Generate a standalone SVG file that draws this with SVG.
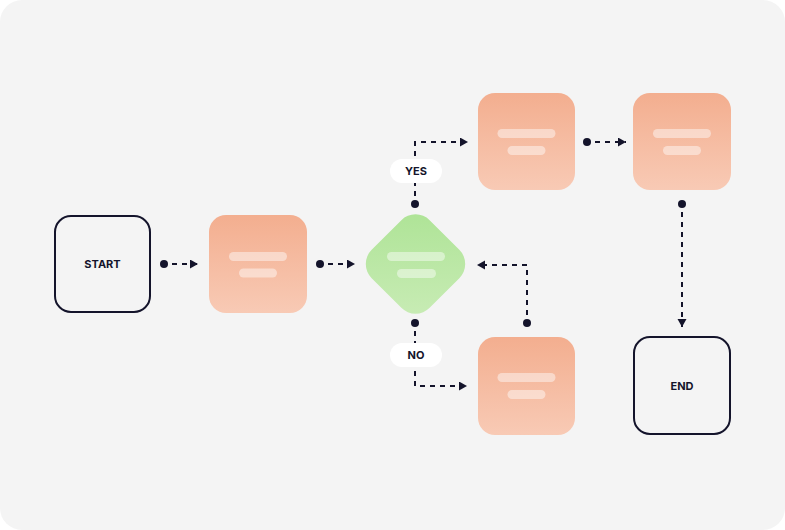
<svg xmlns="http://www.w3.org/2000/svg" width="785" height="530" viewBox="0 0 785 530">
<defs>
<linearGradient id="og" x1="0" y1="0" x2="0" y2="1">
<stop offset="0" stop-color="#f3ae8f"/>
<stop offset="1" stop-color="#f8cab5"/>
</linearGradient>
<linearGradient id="gg" x1="0" y1="0" x2="1" y2="1">
<stop offset="0" stop-color="#ade395"/>
<stop offset="1" stop-color="#c9ecb6"/>
</linearGradient>
<marker id="ah" markerUnits="userSpaceOnUse" markerWidth="10" markerHeight="10" refX="8" refY="4.5" orient="auto">
<path d="M0,0 L8,4.5 L0,9 z" fill="#14142b"/>
</marker>
<style>
.term{fill:none;stroke:#14142b;stroke-width:2}
.lbl{font-family:Inter,"Liberation Sans",sans-serif;font-weight:700;font-size:11px;fill:#14142b;text-anchor:middle}
.bar{fill:#ffffff;fill-opacity:0.45}
.conn{fill:none;stroke:#14142b;stroke-width:2;stroke-dasharray:5 5}
.dot{fill:#14142b}
.pill{fill:#ffffff}
</style>
</defs>
<rect x="0" y="0" width="785" height="530" fill="#ffffff"/>
<rect x="0" y="0" width="785" height="530" rx="22" fill="#f4f4f4"/>

<g id="connectors">
<circle class="dot" cx="164" cy="264" r="4"/>
<path class="conn" d="M172,264 H198" marker-end="url(#ah)"/>
<circle class="dot" cx="320" cy="264" r="4"/>
<path class="conn" d="M328,264 H355" marker-end="url(#ah)"/>
<circle class="dot" cx="415" cy="204" r="4"/>
<path class="conn" d="M415,196 V142 H468" marker-end="url(#ah)"/>
<circle class="dot" cx="415" cy="323" r="4"/>
<path class="conn" d="M415,331 V386 H467" marker-end="url(#ah)"/>
<circle class="dot" cx="527" cy="323" r="4"/>
<path class="conn" d="M527,315 V265 H477" marker-end="url(#ah)"/>
<circle class="dot" cx="587" cy="142" r="4"/>
<path class="conn" d="M595,142 H626" marker-end="url(#ah)"/>
<circle class="dot" cx="682" cy="204" r="4"/>
<path class="conn" d="M682,212 V327" marker-end="url(#ah)"/>
<g id="yes-label">
<rect class="pill" x="390" y="159" width="52" height="24" rx="12"/>
<text class="lbl" x="416" y="175">YES</text>
</g>
<g id="no-label">
<rect class="pill" x="390" y="343" width="52" height="24" rx="12"/>
<text class="lbl" x="416" y="359">NO</text>
</g>
</g>

<g id="start">
<rect class="term" x="55" y="216" width="95" height="96" rx="16"/>
<text class="lbl" x="102.5" y="268">START</text>
</g>

<g id="step1">
<rect x="209" y="215" width="98" height="98" rx="17" fill="url(#og)"/>
<rect class="bar" x="229" y="252" width="58" height="9" rx="4.5"/>
<rect class="bar" x="239" y="268.5" width="38" height="9" rx="4.5"/>
</g>

<g id="decision">
<rect x="374.5" y="223" width="82" height="82" rx="20" fill="url(#gg)" transform="rotate(45 415.5 264)"/>
<rect class="bar" x="387" y="252" width="58" height="9" rx="4.5"/>
<rect class="bar" x="397" y="269" width="39" height="9" rx="4.5"/>
</g>

<g id="step-yes">
<rect x="478" y="93" width="97" height="97" rx="17" fill="url(#og)"/>
<rect class="bar" x="497.5" y="129" width="58" height="9" rx="4.5"/>
<rect class="bar" x="507.5" y="146" width="38" height="9" rx="4.5"/>
</g>

<g id="step-yes2">
<rect x="633" y="93" width="98" height="97" rx="17" fill="url(#og)"/>
<rect class="bar" x="653" y="129" width="58" height="9" rx="4.5"/>
<rect class="bar" x="663" y="146" width="38" height="9" rx="4.5"/>
</g>

<g id="step-no">
<rect x="478" y="337" width="97" height="98" rx="17" fill="url(#og)"/>
<rect class="bar" x="497.5" y="373" width="58" height="9" rx="4.5"/>
<rect class="bar" x="507.5" y="390" width="38" height="9" rx="4.5"/>
</g>

<g id="end">
<rect class="term" x="634" y="337" width="96" height="97" rx="16"/>
<text class="lbl" x="682" y="389.5">END</text>
</g>
</svg>
